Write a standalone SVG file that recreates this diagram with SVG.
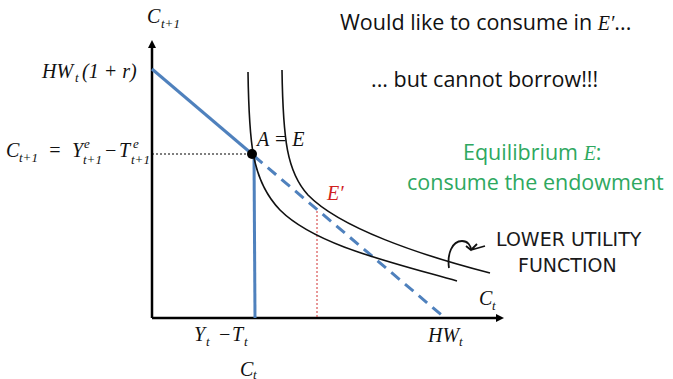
<svg xmlns="http://www.w3.org/2000/svg" width="673" height="379" viewBox="0 0 673 379">
<defs>
<marker id="ah" markerWidth="8" markerHeight="8" refX="4" refY="4" orient="auto" markerUnits="userSpaceOnUse">
<path d="M0,0 L8,4 L0,8 z" fill="#000"/>
</marker>
<style>
.m{font-family:"Liberation Serif",serif;font-style:italic;font-size:20px;fill:#111}
.s{font-family:"Liberation Serif",serif;font-style:italic;font-size:13px;fill:#111}
.t{font-family:"Open Sans","Liberation Sans",sans-serif;font-size:21.5px;fill:#111}
.g{font-family:"Open Sans","Liberation Sans",sans-serif;font-size:21.5px;fill:#2ea860}
.h{font-family:"DejaVu Sans",sans-serif;font-size:19px;fill:#1a1a1a}
.ax{stroke:#000;stroke-width:2.5;fill:none}
.cv{stroke:#111;stroke-width:1.6;fill:none}
</style>
</defs>
<rect width="673" height="379" fill="#fff"/>
<g id="axes">
<line class="ax" x1="152" y1="318" x2="152" y2="44" marker-end="url(#ah)"/>
<line class="ax" x1="152" y1="318" x2="500" y2="318" marker-end="url(#ah)"/>
</g>
<g id="connectors">
<line x1="152" y1="154" x2="252" y2="154" stroke="#000" stroke-width="1.2" stroke-dasharray="2,2"/>
<line x1="317" y1="211" x2="317" y2="318" stroke="#d03030" stroke-width="1" stroke-dasharray="2,2"/>
<line x1="152" y1="69" x2="252" y2="154" stroke="#4f81bd" stroke-width="3"/>
<line x1="254" y1="154" x2="255" y2="318" stroke="#4f81bd" stroke-width="3"/>
<line x1="254" y1="156" x2="445" y2="318" stroke="#4f81bd" stroke-width="3" stroke-dasharray="11,7"/>
<path class="cv" d="M248,72 C249,140 251,180 280,210 C315,245 390,262 457,281"/>
<path class="cv" d="M282,70 C283,140 287,172 308,195 C340,228 420,255 490,273"/>
<path d="M449,268 C447,254 452,241 462,241 C468,241 471,246 471,250" fill="none" stroke="#111" stroke-width="1.8"/>
<path d="M466,246 L471,250 L477,244 M471,250 L485,246" fill="none" stroke="#111" stroke-width="1.8"/>
</g>
<g id="pointA">
<circle cx="252" cy="154" r="5" fill="#000"/>
<text class="m" x="257" y="146" font-size="18">A = E</text>
</g>
<g id="labels">
<text class="m" x="147" y="23">C</text><text class="s" x="161" y="28">t+1</text>
<text class="m" x="479" y="305">C</text><text class="s" x="492" y="310">t</text>
<text class="m" x="42" y="78" font-size="21">HW</text><text class="s" x="75" y="82">t</text><text class="m" x="82" y="78" font-size="21">(1 + r)</text>
<text class="m" x="6" y="157">C</text><text class="s" x="19" y="162">t+1</text><text class="m" x="48" y="157">=</text>
<text class="m" x="72" y="157">Y</text><text class="s" x="84" y="148">e</text><text class="s" x="83" y="164">t+1</text>
<text class="m" x="104" y="157">−</text><text class="m" x="119" y="157">T</text><text class="s" x="133" y="148">e</text><text class="s" x="131" y="164">t+1</text>
<text class="m" x="194" y="341">Y</text><text class="s" x="206" y="346">t</text><text class="m" x="218" y="341">−</text><text class="m" x="232" y="341">T</text><text class="s" x="244" y="346">t</text>
<text class="m" x="240" y="376">C</text><text class="s" x="253" y="379">t</text>
<text class="m" x="428" y="342">HW</text><text class="s" x="459" y="346">t</text>
<text class="m" x="327" y="200" style="fill:#d02020" font-size="22">E′</text>
</g>
<g id="notes">
<text class="t" x="340" y="30">Would like to consume in <tspan class="m" font-size="23">E′</tspan>...</text>
<text class="t" x="371" y="87">... but cannot borrow!!!</text>
<text class="g" x="463" y="160">Equilibrium <tspan class="m" style="fill:#2ea860" font-size="22">E</tspan>:</text>
<text class="g" x="407" y="190">consume the endowment</text>
<text class="h" x="496" y="246">LOWER UTILITY</text>
<text class="h" x="518" y="272">FUNCTION</text>
</g>
</svg>
